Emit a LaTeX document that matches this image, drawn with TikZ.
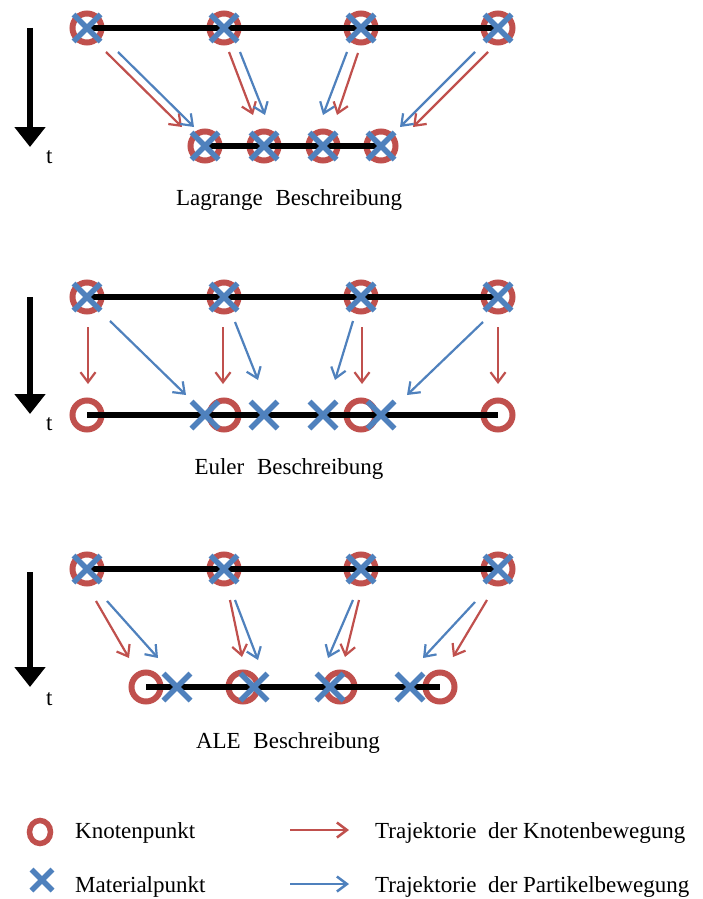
\documentclass[tikz,border=0pt]{standalone}
\usepackage{fontspec}
\setmainfont{Liberation Serif}
\usetikzlibrary{arrows.meta,shapes.misc,shapes.geometric}
\definecolor{kred}{HTML}{C0504D}
\definecolor{kblue}{HTML}{4F81BD}
\begin{document}
\begin{tikzpicture}[x=1pt,y=-1pt,
 knot/.style={circle,draw=kred,line width=6pt,minimum size=29pt,inner sep=0pt,outer sep=0pt},
 knotS/.style={ellipse,draw=kred,line width=5.5pt,minimum width=21pt,minimum height=23pt,inner sep=0pt,outer sep=0pt},
 mat/.style={cross out,draw=kblue,line width=5.5pt,minimum size=27pt,inner sep=0pt,outer sep=0pt},
 matS/.style={mat,minimum size=21pt},
 bar/.style={line width=6pt,black},
 rarr/.style={kred,line width=2.2pt,-{Straight Barb[length=10pt,width=15pt]}},
 barr/.style={kblue,line width=2.2pt,-{Straight Barb[length=10pt,width=15pt]}},
 tarr/.style={line width=6pt,-{Triangle[length=20pt,width=30pt]}},
 lbl/.style={font=\fontsize{23}{27}\selectfont,inner sep=0pt,anchor=base},
 lblw/.style={lbl,anchor=base west}]
\useasboundingbox[fill=white] (0,0) rectangle (703,899);

% ---------------- Lagrange ----------------
\foreach \i/\x in {1/87,2/224,3/361,4/498} \node[knot] (LTk\i) at (\x,28) {};
\foreach \i/\x in {1/205,2/264,3/323,4/381} \node[knot] (LBk\i) at (\x,146) {};
\draw[bar] (LTk1.center) -- (LTk4.center);
\draw[bar] (LBk1.center) -- (LBk4.center);
\foreach \i/\x in {1/87,2/224,3/361,4/498} \node[mat] (LTm\i) at (\x,28) {};
\foreach \i/\x in {1/205,2/264,3/323,4/381} \node[mat] (LBm\i) at (\x,146) {};
\foreach \n/\xa/\ya/\xb/\yb in {LR1/106/52/182/127, LR2/229/52/253/115, LR3/358/53/337/115, LR4/488/52/413/127}{
  \coordinate (\n a) at (\xa,\ya); \coordinate (\n b) at (\xb,\yb);
  \draw[rarr] (\n a) -- (\n b);}
\foreach \n/\xa/\ya/\xb/\yb in {LB1/118/52/194/127, LB2/240/52/265/115, LB3/347/52/323/115, LB4/475/52/400/127}{
  \coordinate (\n a) at (\xa,\ya); \coordinate (\n b) at (\xb,\yb);
  \draw[barr] (\n a) -- (\n b);}
\coordinate (LTa) at (30,28); \coordinate (LTb) at (30,147);
\draw[tarr] (LTa) -- (LTb);
\node[lblw] (Lt) at (46,163) {t};
\node[lbl] (Llab) at (289,205) {Lagrange\hspace{0.55em}Beschreibung};

% ---------------- Euler ----------------
\foreach \i/\x in {1/87,2/224,3/361,4/498} \node[knot] (ETk\i) at (\x,297) {};
\foreach \i/\x in {1/87,2/224,3/361,4/498} \node[knot] (EBk\i) at (\x,415) {};
\draw[bar] (ETk1.center) -- (ETk4.center);
\draw[bar] (EBk1.center) -- (EBk4.center);
\foreach \i/\x in {1/87,2/224,3/361,4/498} \node[mat] (ETm\i) at (\x,297) {};
\foreach \i/\x in {1/205,2/264,3/323,4/381} \node[mat] (EBm\i) at (\x,415) {};
\foreach \n/\xa/\xb in {ER1/88/88, ER2/223/223, ER3/362/362, ER4/498/498}{
  \coordinate (\n a) at (\xa,327); \coordinate (\n b) at (\xb,384);
  \draw[rarr] (\n a) -- (\n b);}
\foreach \n/\xa/\ya/\xb/\yb in {EB1/110/321/186/395, EB2/235/322/258/380, EB3/353/321/335/380, EB4/483/322/407/395}{
  \coordinate (\n a) at (\xa,\ya); \coordinate (\n b) at (\xb,\yb);
  \draw[barr] (\n a) -- (\n b);}
\coordinate (ETa) at (30,297); \coordinate (ETb) at (30,414);
\draw[tarr] (ETa) -- (ETb);
\node[lblw] (Et) at (46,430) {t};
\node[lbl] (Elab) at (289,474) {Euler\hspace{0.55em}Beschreibung};

% ---------------- ALE ----------------
\foreach \i/\x in {1/87,2/224,3/361,4/498} \node[knot] (ATk\i) at (\x,569) {};
\foreach \i/\x in {1/146,2/243,3/340,4/440} \node[knot] (ABk\i) at (\x,687) {};
\draw[bar] (ATk1.center) -- (ATk4.center);
\draw[bar] (ABk1.center) -- (ABk4.center);
\foreach \i/\x in {1/87,2/224,3/361,4/498} \node[mat] (ATm\i) at (\x,569) {};
\foreach \i/\x in {1/177,2/254,3/330,4/410} \node[mat] (ABm\i) at (\x,687) {};
\foreach \n/\xa/\ya/\xb/\yb in {AR1/96/601/129/658, AR2/230/600/242/657, AR3/359/600/345/657, AR4/487/600/453/657}{
  \coordinate (\n a) at (\xa,\ya); \coordinate (\n b) at (\xb,\yb);
  \draw[rarr] (\n a) -- (\n b);}
\foreach \n/\xa/\ya/\xb/\yb in {AB1/107/601/158/658, AB2/235/600/258/660, AB3/353/600/328/658, AB4/475/602/423/658}{
  \coordinate (\n a) at (\xa,\ya); \coordinate (\n b) at (\xb,\yb);
  \draw[barr] (\n a) -- (\n b);}
\coordinate (ATa) at (30,572); \coordinate (ATb) at (30,687);
\draw[tarr] (ATa) -- (ATb);
\node[lblw] (At) at (46,705) {t};
\node[lbl] (Alab) at (288,748) {ALE\hspace{0.55em}Beschreibung};

% ---------------- Legend ----------------
\node[knotS] (legK) at (40,832) {};
\node[matS] (legM) at (42,880) {};
\node[lblw] (legKt) at (75,838) {Knotenpunkt};
\node[lblw] (legMt) at (75,892) {Materialpunkt};
\coordinate (lr1) at (290,830); \coordinate (lr2) at (349,830);
\coordinate (lb1) at (290,884); \coordinate (lb2) at (349,884);
\draw[rarr,line width=2.5pt] (lr1) -- (lr2);
\draw[barr,line width=2.5pt] (lb1) -- (lb2);
\node[lblw] (legRt) at (375,838) {Trajektorie\hspace{0.5em}der Knotenbewegung};
\node[lblw] (legBt) at (375,892) {Trajektorie\hspace{0.5em}der Partikelbewegung};
\end{tikzpicture}
\end{document}
